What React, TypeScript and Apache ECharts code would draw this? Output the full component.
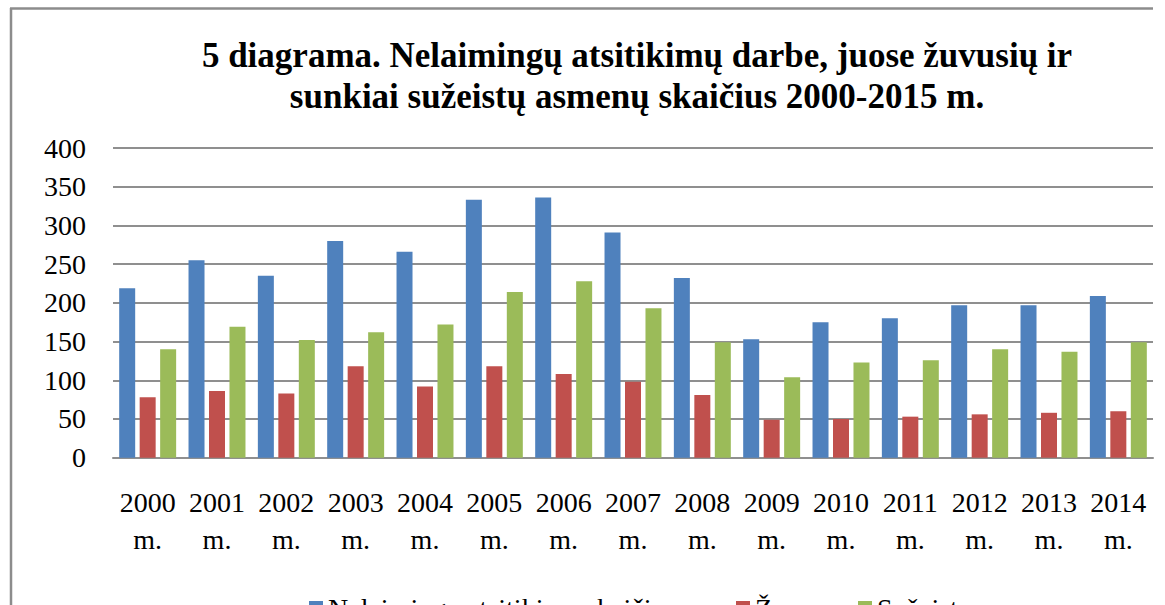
import React, { useEffect, useRef } from "react";
import * as echarts from "echarts";

const categories = [
  "2000\nm.", "2001\nm.", "2002\nm.", "2003\nm.", "2004\nm.", "2005\nm.", "2006\nm.", "2007\nm.",
  "2008\nm.", "2009\nm.", "2010\nm.", "2011\nm.", "2012\nm.", "2013\nm.", "2014\nm.",
];
const accidents = [219, 255, 235, 280, 266, 333, 336, 291, 232, 153, 175, 180, 197, 197, 209];
const killed = [78, 86, 83, 118, 92, 118, 108, 98, 81, 49, 50, 53, 56, 58, 60];
const injured = [140, 169, 152, 162, 172, 214, 228, 193, 149, 104, 123, 126, 140, 137, 149];
const seriesNames = ["Nelaimingų atsitikimų skaičius", "Žuvę", "Sužeistų"];
const titleText = "5 diagrama. Nelaimingų atsitikimų darbe, juose žuvusių ir\nsunkiai sužeistų asmenų skaičius 2000-2015 m.";

const FONT = "'Liberation Serif', 'Times New Roman', serif";
const COLORS = ["#4F81BD", "#C0504D", "#9BBB59"];

export default function App() {
  const ref = useRef<HTMLDivElement>(null);
  useEffect(() => {
    if (!ref.current) return;
    const chart = echarts.init(ref.current, null, { renderer: "svg" });
    const values = [accidents, killed, injured];
    const legendLefts = [304, 731, 853];
    chart.setOption({
      animation: false,
      backgroundColor: "#ffffff",
      color: COLORS,
      textStyle: { fontFamily: FONT },
      title: {
        text: titleText,
        left: 632,
        top: 30,
        textAlign: "center",
        textStyle: {
          fontFamily: FONT,
          fontWeight: "bold",
          fontSize: 35,
          lineHeight: 41,
          color: "#000",
        },
      },
      legend: seriesNames.map((n, i) => ({
        data: [n],
        left: legendLefts[i],
        top: 589,
        itemWidth: 14,
        itemHeight: 14,
        itemGap: 0,
        icon: "rect",
        textStyle: { fontFamily: FONT, fontSize: 28, color: "#000" },
      })),
      grid: { left: 113, right: 12, top: 148, bottom: 147.3, containLabel: false },
      xAxis: {
        type: "category",
        data: categories,
        axisLine: { show: true, lineStyle: { color: "#8f8f8f", width: 2 } },
        axisTick: { show: false },
        axisLabel: {
          interval: 0,
          margin: 26,
          fontFamily: FONT,
          fontSize: 28,
          lineHeight: 37,
          color: "#000",
        },
      },
      yAxis: {
        type: "value",
        min: 0,
        max: 400,
        interval: 50,
        axisLine: { show: false },
        axisTick: { show: false },
        axisLabel: { margin: 27, fontFamily: FONT, fontSize: 28, color: "#000" },
        splitLine: { lineStyle: { color: "#8f8f8f", width: 2 } },
      },
      series: seriesNames.map((n, i) => ({
        name: n,
        type: "bar",
        data: values[i],
        barWidth: 16,
        barGap: "28%",
        itemStyle: { color: COLORS[i] },
      })),
      graphic: [
        {
          type: "line",
          shape: { x1: 10, y1: 8.5, x2: 1153, y2: 8.5 },
          style: { stroke: "#8c8c8c", lineWidth: 2.5 },
        },
        {
          type: "line",
          shape: { x1: 11, y1: 8, x2: 11, y2: 605 },
          style: { stroke: "#8c8c8c", lineWidth: 2.5 },
        },
      ],
    });
    return () => chart.dispose();
  }, []);
  return (
    <div
      ref={ref}
      style={{ position: "fixed", left: 0, top: 0, width: 1165, height: 605, background: "#fff" }}
    />
  );
}
